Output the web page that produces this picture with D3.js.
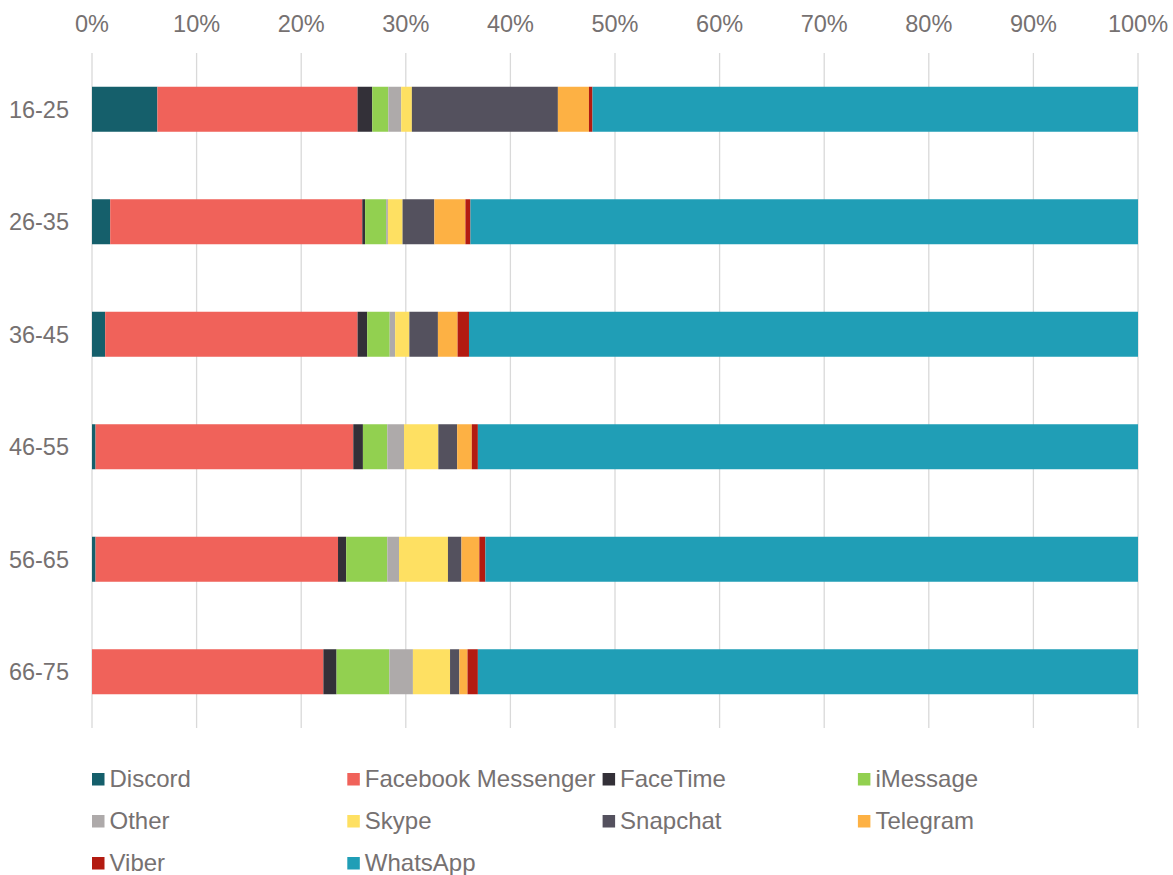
<!DOCTYPE html>
<html>
<head>
<meta charset="utf-8">
<script src="https://cdn.jsdelivr.net/npm/d3@7"></script>
<style>
  body { margin: 0; background: #fff; }
  text { font-family: "Liberation Sans", Arial, sans-serif; fill: #767171; }
</style>
</head>
<body>
<svg width="1173" height="875"></svg>
<script>
// age groups (rows)
var ages = ["16-25", "26-35", "36-45", "46-55", "56-65", "66-75"];

// apps in stacking order
var apps = ["Discord", "Facebook Messenger", "FaceTime", "iMessage", "Other",
            "Skype", "Snapchat", "Telegram", "Viber", "WhatsApp"];

var colors = ["#155f6b", "#f0625a", "#333038", "#92d050", "#aeaaaa",
              "#fee062", "#54515e", "#fdb144", "#b31b11", "#209eb6"];

// share (%) of each app, one array per app, in order of ages
var discord   = [6.25, 1.74, 1.26, 0.34, 0.34, 0.00];
var facebook  = [19.14, 24.10, 24.13, 24.64, 23.18, 22.12];
var facetime  = [1.40, 0.27, 0.92, 0.92, 0.78, 1.26];
var imessage  = [1.54, 2.01, 2.15, 2.33, 3.93, 5.05];
var other     = [1.23, 0.17, 0.52, 1.60, 1.12, 2.25];
var skype     = [1.02, 1.40, 1.36, 3.28, 4.68, 3.55];
var snapchat  = [13.96, 3.04, 2.73, 1.80, 1.29, 0.89];
var telegram  = [2.97, 2.97, 1.88, 1.40, 1.71, 0.78];
var viber     = [0.34, 0.48, 1.09, 0.58, 0.58, 0.99];
var whatsapp  = [52.15, 63.82, 63.96, 63.11, 62.39, 63.11];

var xTicks = [0, 10, 20, 30, 40, 50, 60, 70, 80, 90, 100];

var series = [discord, facebook, facetime, imessage, other, skype, snapchat, telegram, viber, whatsapp];

// build rows for the stack
var rows = ages.map(function(a, i) {
    var r = { age: a };
    apps.forEach(function(app, j) { r[app] = series[j][i]; });
    return r;
});

var svg = d3.select("svg");
var margin = { top: 53, left: 92, right: 35 };
var plotBottom = 728;

var x = d3.scaleLinear().domain([0, 100]).range([margin.left, 1173 - margin.right]);
var y = d3.scaleBand().domain(ages).range([margin.top, plotBottom])
    .paddingInner(0.6).paddingOuter(0.3);

var color = d3.scaleOrdinal().domain(apps).range(colors);

// gridlines
svg.append("g")
    .selectAll("line")
    .data(xTicks)
    .join("line")
    .attr("x1", function(d) { return x(d); })
    .attr("x2", function(d) { return x(d); })
    .attr("y1", margin.top)
    .attr("y2", plotBottom)
    .attr("stroke", "#d9d9d9")
    .attr("stroke-width", 1.3);

// top tick labels
svg.append("g")
    .selectAll("text")
    .data(xTicks)
    .join("text")
    .attr("x", function(d) { return x(d); })
    .attr("y", 32)
    .attr("text-anchor", "middle")
    .style("font-size", "23.5px")
    .text(function(d) { return d + "%"; });

// stacked bars
var stacked = d3.stack().keys(apps)(rows);

svg.append("g")
    .selectAll("g")
    .data(stacked)
    .join("g")
    .attr("fill", function(d) { return color(d.key); })
    .selectAll("rect")
    .data(function(d) { return d; })
    .join("rect")
    .attr("x", function(d) { return x(d[0]); })
    .attr("width", function(d) { return Math.max(0, x(d[1]) - x(d[0])); })
    .attr("y", function(d) { return y(d.data.age); })
    .attr("height", y.bandwidth());

// row labels
svg.append("g")
    .selectAll("text")
    .data(ages)
    .join("text")
    .attr("x", 69)
    .attr("y", function(d) { return y(d) + y.bandwidth() / 2; })
    .attr("dy", "0.36em")
    .attr("text-anchor", "end")
    .style("font-size", "23.5px")
    .text(function(d) { return d; });

// legend
var legend = svg.append("g")
    .selectAll("g")
    .data(apps)
    .join("g")
    .attr("transform", function(d, i) {
        return "translate(" + (92 + (i % 4) * 255.3) + "," + (773 + Math.floor(i / 4) * 42) + ")";
    });

legend.append("rect")
    .attr("width", 12.5)
    .attr("height", 12.5)
    .attr("fill", function(d) { return color(d); });

legend.append("text")
    .attr("x", 17.5)
    .attr("y", 13.5)
    .style("font-size", "24px")
    .text(function(d) { return d; });
</script>
</body>
</html>
